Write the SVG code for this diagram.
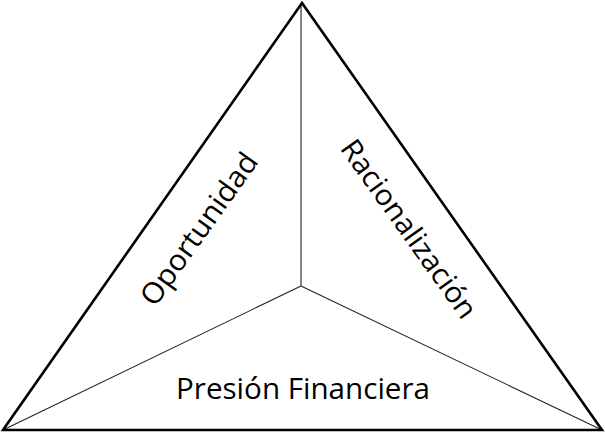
<svg xmlns="http://www.w3.org/2000/svg" width="605" height="433" viewBox="0 0 605 433">
<style>
.outer{fill:none;stroke:#000;stroke-width:2.6;stroke-linejoin:miter}
.inner{fill:none;stroke:#222;stroke-width:1.1}
.lbl{font-family:"Open Sans","Liberation Sans",sans-serif;font-size:29px;fill:#000;text-anchor:middle}
</style>
<rect width="605" height="433" fill="#fff"/>
<g id="connectors">
<line class="inner" x1="301" y1="4" x2="301" y2="286"/>
<line class="inner" x1="301" y1="286" x2="3" y2="430"/>
<line class="inner" x1="301" y1="286" x2="602" y2="430"/>
</g>
<g id="triangle">
<polygon class="outer" points="302,3 602,430 3,430"/>
</g>
<g id="oportunidad">
<text class="lbl" transform="translate(199,229) rotate(-54.5)" y="10" textLength="180" lengthAdjust="spacingAndGlyphs">Oportunidad</text>
</g>
<g id="racionalizacion">
<text class="lbl" transform="translate(409,229) rotate(54.5)" y="10" textLength="212" lengthAdjust="spacingAndGlyphs">Racionalización</text>
</g>
<g id="presion">
<text class="lbl" x="303" y="399" textLength="254" lengthAdjust="spacingAndGlyphs">Presión Financiera</text>
</g>
</svg>
